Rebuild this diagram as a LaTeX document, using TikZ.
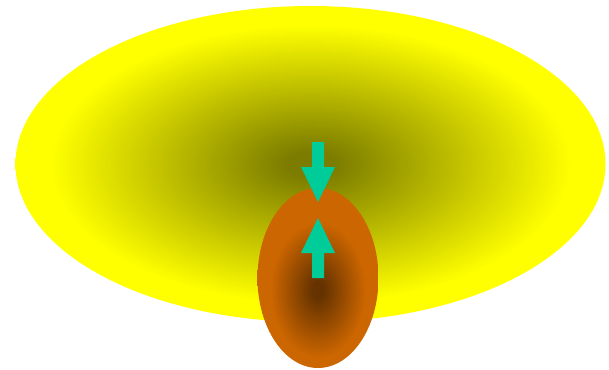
\documentclass[tikz,border=0pt]{standalone}
\usetikzlibrary{shadings}
\definecolor{olv}{RGB}{124,124,0}
\definecolor{yel}{RGB}{255,255,0}
\definecolor{brn}{RGB}{102,51,0}
\definecolor{org}{RGB}{204,102,0}
\definecolor{teal2}{RGB}{0,204,153}
\pgfdeclareradialshading{bigshade}{\pgfpoint{0bp}{0bp}}{color(0bp)=(olv); color(2bp)=(olv); color(22bp)=(yel); color(50bp)=(yel)}
\pgfdeclareradialshading{smallshade}{\pgfpoint{0bp}{0bp}}{color(0bp)=(brn); color(2bp)=(brn); color(16bp)=(org); color(50bp)=(org)}
\tikzset{
  fatarrow/.style={fill=teal2, draw=none},
}
\begin{document}
\begin{tikzpicture}[x=1pt,y=-1pt]
\useasboundingbox (0,0) rectangle (609,369);
% large yellow ellipse
\shade[shading=bigshade] (310.5,164) ellipse (295 and 158);
% orange ellipse, shading centre a little below the middle
\begin{scope}
  \clip (318,278) ellipse (60.5 and 90);
  \shade[shading=smallshade] (318,290) ellipse (74 and 106);
\end{scope}
% arrow pointing down
\fill[fatarrow] (312,142) -- (324,142) -- (324,167) -- (335,167) -- (318,202) -- (301,167) -- (312,167) -- cycle;
% arrow pointing up
\fill[fatarrow] (312,278) -- (324,278) -- (324,253) -- (335,253) -- (318,218) -- (301,253) -- (312,253) -- cycle;
\end{tikzpicture}
\end{document}
